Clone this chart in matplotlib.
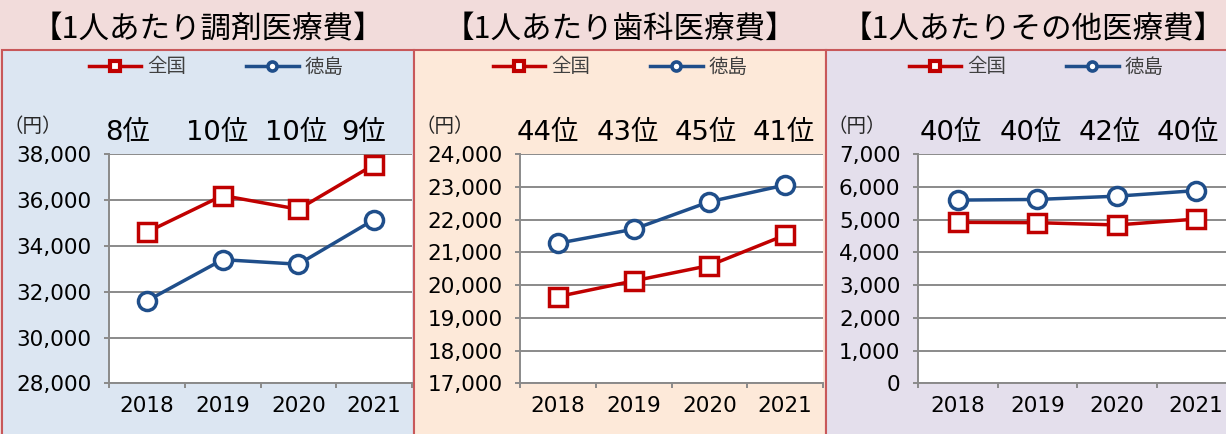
import matplotlib
matplotlib.use("Agg")
import matplotlib.pyplot as plt
import matplotlib.ticker as mticker
from matplotlib.patches import Rectangle
from matplotlib.lines import Line2D

# ---- data -------------------------------------------------------------
years = ["2018", "2019", "2020", "2021"]
series_names = ["全国", "徳島"]

titles = ["【1人あたり調剤医療費】", "【1人あたり歯科医療費】", "【1人あたりその他医療費】"]

national_dispensing = [34600, 36200, 35600, 37550]
tokushima_dispensing = [31600, 33400, 33200, 35150]
rank_dispensing = ["8位", "10位", "10位", "9位"]

national_dental = [19650, 20130, 20600, 21530]
tokushima_dental = [21280, 21710, 22550, 23060]
rank_dental = ["44位", "43位", "45位", "41位"]

national_other = [4920, 4910, 4840, 5020]
tokushima_other = [5600, 5620, 5720, 5890]
rank_other = ["40位", "40位", "42位", "40位"]

y_limits = [(28000, 38000, 2000), (17000, 24000, 1000), (0, 7000, 1000)]
unit_label = "（円）"

# ---- style ------------------------------------------------------------
RED = "#c00000"
BLUE = "#1f4e8a"
GRID = "#8a8a8a"
BORDER = "#c8585a"
TITLE_BG = "#f2dcdb"
PANEL_BG = ["#dce6f2", "#fde9d9", "#e4dfec"]

plt.rcParams["font.family"] = ["DejaVu Sans", "Noto Sans CJK JP"]

W, H = 1226, 434
fig = plt.figure(figsize=(W / 100, H / 100), dpi=100)
fig.patch.set_facecolor(TITLE_BG)


def fx(px):
    return px / W


def fy(py):
    return 1 - py / H


# panel geometry in pixels
panel_x = [(2, 413.5), (413.5, 825.5), (825.5, 1240)]
axes_x = [(109, 412), (520, 823), (918, 1236)]
axes_top, axes_bottom = 154.3, 383.3
legend_centers = [216, 620, 1036]
rank_offsets = [[-4, 1, 4, 5], [-3, 1, 3, 5], [2, 2, 2, 0]]

datasets = [
    (national_dispensing, tokushima_dispensing, rank_dispensing),
    (national_dental, tokushima_dental, rank_dental),
    (national_other, tokushima_other, rank_other),
]

for k in range(3):
    x0, x1 = panel_x[k]
    fig.patches.append(Rectangle((fx(x0), fy(445)), fx(x1 - x0), fy(50) - fy(445),
                                 transform=fig.transFigure, facecolor=PANEL_BG[k],
                                 edgecolor=BORDER, linewidth=1.5, zorder=-1))
    # panel title
    fig.text(fx((x0 + x1) / 2), fy(38), titles[k], ha="center", va="baseline",
             fontsize=22, family=["Noto Sans CJK JP"], color="#000000")
    # unit label
    fig.text(fx(x0 + 31), fy(132), unit_label, ha="center", va="baseline",
             fontsize=14, family=["Noto Sans CJK JP"], color="#262626")

    ax_l, ax_r = axes_x[k]
    ax = fig.add_axes([fx(ax_l), fy(axes_bottom), fx(ax_r - ax_l), fy(axes_top) - fy(axes_bottom)])
    ax.set_facecolor("white")

    national, tokushima, ranks = datasets[k]
    xs = range(len(years))
    ax.plot(xs, national, color=RED, lw=2.5, marker="s", ms=13, mfc="white",
            mec=RED, mew=2.5, zorder=3, clip_on=False)
    ax.plot(xs, tokushima, color=BLUE, lw=2.5, marker="o", ms=13, mfc="white",
            mec=BLUE, mew=2.5, zorder=3, clip_on=False)

    lo, hi, step = y_limits[k]
    ax.set_ylim(lo, hi)
    ax.yaxis.set_major_locator(mticker.MultipleLocator(step))
    ax.yaxis.set_major_formatter(mticker.FuncFormatter(lambda v, p: f"{int(v):,}"))
    ax.set_xlim(-0.5, len(years) - 0.5)
    ax.set_xticks(list(xs))
    ax.set_xticklabels(years)
    ax.set_xticks([i - 0.5 for i in range(len(years) + 1)], minor=True)

    ax.grid(axis="y", color=GRID, lw=1.4, zorder=1)
    ax.set_axisbelow(True)
    for s in ("top", "right"):
        ax.spines[s].set_visible(False)
    for s in ("left", "bottom"):
        ax.spines[s].set_color(GRID)
        ax.spines[s].set_linewidth(1.4)

    ax.tick_params(axis="y", length=3.6, width=1.4, color=GRID, pad=9,
                   labelsize=15.5, labelcolor="#000000")
    ax.tick_params(axis="x", which="major", length=0, pad=9,
                   labelsize=15.5, labelcolor="#000000")
    ax.tick_params(axis="x", which="minor", length=3.6, width=1.4, color=GRID)

    # national ranking of Tokushima above each year
    for i, r in enumerate(ranks):
        ax.annotate(r, xy=(i - 0.5, 1.0), xycoords=("data", "axes fraction"),
                    xytext=(rank_offsets[k][i], axes_top - 140), textcoords="offset pixels",
                    ha="left", va="baseline", fontsize=19.7, color="#000000",
                    annotation_clip=False)

    handles = [
        Line2D([], [], color=RED, lw=2.5, marker="s", ms=7.5, mfc="white", mec=RED, mew=3),
        Line2D([], [], color=BLUE, lw=2.5, marker="o", ms=6.5, mfc="white", mec=BLUE, mew=2.6),
    ]
    fig.legend(handles, series_names, loc="center", ncol=2, frameon=False,
               bbox_to_anchor=(fx(legend_centers[k]), fy(67)), bbox_transform=fig.transFigure,
               prop={"family": ["Noto Sans CJK JP"], "size": 14}, labelcolor="#404040",
               handlelength=2.7, handletextpad=0.3, columnspacing=3.1, borderpad=0)

fig.savefig("out.png", dpi=100, facecolor=fig.get_facecolor())
